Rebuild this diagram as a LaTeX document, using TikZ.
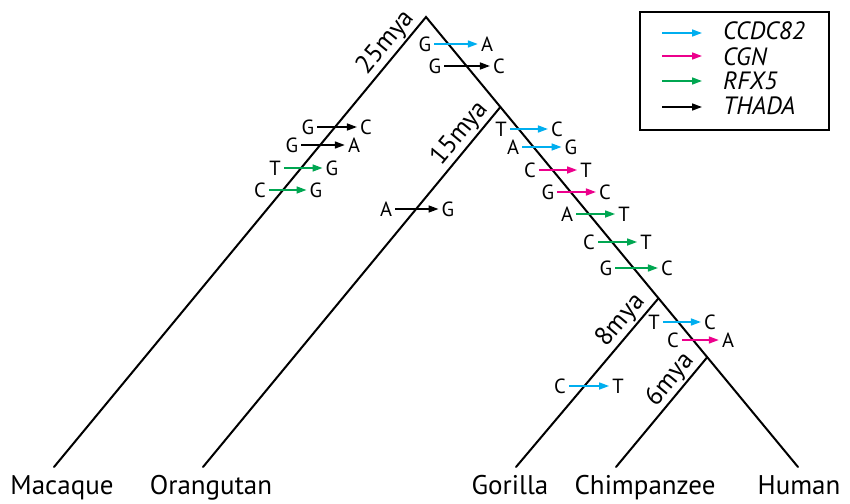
\documentclass[tikz,border=0pt]{standalone}
\usepackage{fontspec}
\setmainfont{PT Sans}
\usetikzlibrary{arrows.meta,calc}

\definecolor{ccdcblue}{RGB}{0,174,239}
\definecolor{cgnpink}{RGB}{236,0,140}
\definecolor{rfxgreen}{RGB}{0,166,81}

\tikzset{
  branch/.style={line width=2pt, line cap=round},
  base letter/.style={inner sep=3pt, font=\fontsize{20.5}{20.5}\selectfont},
  mut/.style={line width=1.6pt, -{Triangle[length=10pt,width=7pt]}},
  taxon/.style={anchor=base, font=\fontsize{27}{27}\selectfont},
  age/.style={sloped, anchor=south east, inner sep=2pt, font=\fontsize{26}{26}\selectfont},
  gene/.style={anchor=west, inner sep=0pt, font=\fontsize{25}{25}\selectfont\itshape}
}

\begin{document}
\begin{tikzpicture}[x=1pt, y=-1pt]
    \useasboundingbox (0,0) rectangle (850,503);

    \coordinate (root) at (426,17);
    \coordinate (mac) at (54,467);
    \coordinate (hum) at (798,467);
    \coordinate (j15) at ($(root)!0.2!(hum)$);
    \coordinate (j8) at ($(root)!0.625!(hum)$);
    \coordinate (j6) at ($(root)!0.756!(hum)$);
    \coordinate (ora) at (203,467);
    \coordinate (gor) at (516,467);
    \coordinate (chi) at (616,467);

    \draw[branch] (mac) -- (root) -- (hum);
    \draw[branch] (ora) -- (j15);
    \draw[branch] (gor) -- (j8);
    \draw[branch] (chi) -- (j6);

    \path (mac) -- (root) node[age, pos=0.99] {25mya};
    \path (ora) -- (j15) node[age, pos=0.985] {15mya};
    \path (gor) -- (j8) node[age, pos=0.96] {8mya};
    \path (chi) -- (j6) node[age, pos=0.94] {6mya};

    \node[taxon] (tmac) at (62,494) {Macaque};
    \node[taxon] (tora) at (211,494) {Orangutan};
    \node[taxon] (tgor) at (510,494) {Gorilla};
    \node[taxon] (tchi) at (645,494) {Chimpanzee};
    \node[taxon] (thum) at (799,494) {Human};

    \node[base letter] (m1s) at (425,44) {G};
    \node[base letter] (m1t) at (487,44) {A};
    \draw[mut, ccdcblue] (m1s) -- (m1t);
    \node[base letter] (m2s) at (435,66) {G};
    \node[base letter] (m2t) at (499,66) {C};
    \draw[mut, black] (m2s) -- (m2t);

    \node[base letter] (m3s) at (308,127) {G};
    \node[base letter] (m3t) at (366,127) {C};
    \draw[mut, black] (m3s) -- (m3t);
    \node[base letter] (m4s) at (292,145) {G};
    \node[base letter] (m4t) at (354,145) {A};
    \draw[mut, black] (m4s) -- (m4t);
    \node[base letter] (m5s) at (275,168) {T};
    \node[base letter] (m5t) at (332,168) {G};
    \draw[mut, rfxgreen] (m5s) -- (m5t);
    \node[base letter] (m6s) at (260,190) {C};
    \node[base letter] (m6t) at (316,190) {G};
    \draw[mut, rfxgreen] (m6s) -- (m6t);

    \node[base letter] (m7s) at (386,209) {A};
    \node[base letter] (m7t) at (448,209) {G};
    \draw[mut, black] (m7s) -- (m7t);

    \node[base letter] (m8s) at (501,129) {T};
    \node[base letter] (m8t) at (557,129) {C};
    \draw[mut, ccdcblue] (m8s) -- (m8t);
    \node[base letter] (m9s) at (513,147) {A};
    \node[base letter] (m9t) at (571,147) {G};
    \draw[mut, ccdcblue] (m9s) -- (m9t);
    \node[base letter] (m10s) at (530,170) {C};
    \node[base letter] (m10t) at (586,170) {T};
    \draw[mut, cgnpink] (m10s) -- (m10t);
    \node[base letter] (m11s) at (548,192) {G};
    \node[base letter] (m11t) at (605,192) {C};
    \draw[mut, cgnpink] (m11s) -- (m11t);
    \node[base letter] (m12s) at (567,214) {A};
    \node[base letter] (m12t) at (624,214) {T};
    \draw[mut, rfxgreen] (m12s) -- (m12t);
    \node[base letter] (m13s) at (589,242) {C};
    \node[base letter] (m13t) at (646,242) {T};
    \draw[mut, rfxgreen] (m13s) -- (m13t);
    \node[base letter] (m14s) at (606,268) {G};
    \node[base letter] (m14t) at (667,268) {C};
    \draw[mut, rfxgreen] (m14s) -- (m14t);

    \node[base letter] (m15s) at (654,322) {T};
    \node[base letter] (m15t) at (710,322) {C};
    \draw[mut, ccdcblue] (m15s) -- (m15t);
    \node[base letter] (m16s) at (673,340) {C};
    \node[base letter] (m16t) at (728,340) {A};
    \draw[mut, cgnpink] (m16s) -- (m16t);

    \node[base letter] (m17s) at (560,386) {C};
    \node[base letter] (m17t) at (618,386) {T};
    \draw[mut, ccdcblue] (m17s) -- (m17t);

    \draw[line width=2.5pt] (640,12) rectangle (829,130);
    \coordinate (l1) at (662,33);
    \coordinate (l2) at (662,56);
    \coordinate (l3) at (662,81);
    \coordinate (l4) at (662,107);
    \node[gene] (gccdc) at (723,31) {CCDC82};
    \node[gene] (gcgn) at (723,57) {CGN};
    \node[gene] (grfx) at (723,81) {RFX5};
    \node[gene] (gthada) at (723,106) {THADA};
    \draw[mut, ccdcblue] (l1) -- +(40,0);
    \draw[mut, cgnpink] (l2) -- +(40,0);
    \draw[mut, rfxgreen] (l3) -- +(40,0);
    \draw[mut, black] (l4) -- +(40,0);
\end{tikzpicture}
\end{document}
